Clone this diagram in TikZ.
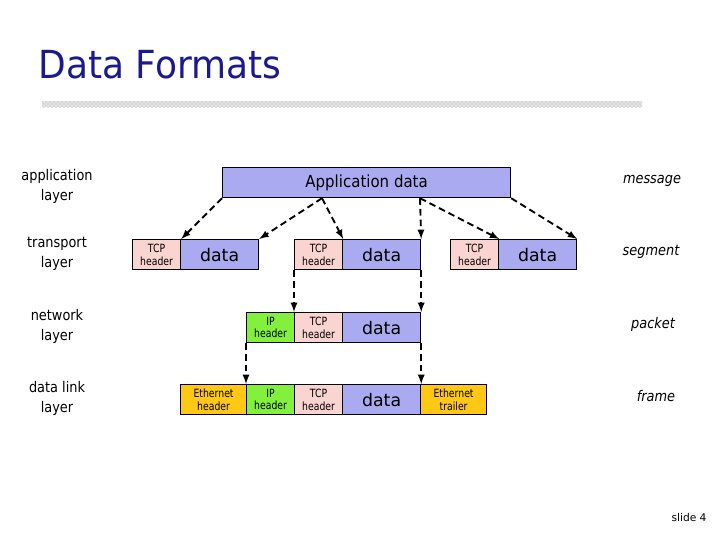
\documentclass[tikz,border=0pt]{standalone}
\usepackage{fontspec}
\setmainfont{DejaVu Sans}
\usetikzlibrary{calc,patterns}
\definecolor{tblue}{RGB}{26,26,140}
\definecolor{bblue}{RGB}{170,170,240}
\definecolor{bpink}{RGB}{250,212,208}
\definecolor{bgreen}{RGB}{130,240,60}
\definecolor{borange}{RGB}{255,200,20}
\begin{document}
\begin{tikzpicture}[x=0.75pt,y=-0.75pt,
  box/.style={draw=black,line width=0.9pt,anchor=north west,minimum height=22.5pt,inner sep=0pt,align=center,font=\fontsize{8.5}{9.5}\selectfont\addfontfeatures{FakeStretch=0.82}},
  big/.style={font=\fontsize{13}{14}\selectfont},
  lay/.style={align=center,font=\fontsize{11}{15}\selectfont\addfontfeatures{FakeStretch=0.88}},
  nm/.style={font=\itshape\fontsize{11}{12}\selectfont\addfontfeatures{FakeStretch=0.88}},
  arr/.style={-latex,line width=1.4pt,dash pattern=on 5pt off 3pt}]
\useasboundingbox (0,0) rectangle (720,540);
\node[anchor=west,text=tblue,font=\fontsize{29}{32}\selectfont\addfontfeatures{FakeStretch=0.93}] (title) at (34,65) {Data Formats};
\path[fill=gray!45,pattern=crosshatch dots,pattern color=gray] (42,101) rectangle (642,107);
\node[draw=none,fill=gray!35,opacity=0.6,minimum width=450pt,minimum height=4.5pt,inner sep=0pt] (bar) at (342,104) {};
% app
\node[box,fill=bblue,minimum width=216pt,font=\fontsize{12.5}{14}\selectfont\addfontfeatures{FakeStretch=0.9}] (app) at (222,167) {Application data};
% segments
\node[box,fill=bpink,minimum width=36pt] (t1) at (132,239) {TCP\\header};
\node[box,fill=bblue,minimum width=58.5pt,big] (d1) at (180,239) {data};
\node[box,fill=bpink,minimum width=36pt] (t2) at (294,239) {TCP\\header};
\node[box,fill=bblue,minimum width=58.5pt,big] (d2) at (342,239) {data};
\node[box,fill=bpink,minimum width=36pt] (t3) at (450,239) {TCP\\header};
\node[box,fill=bblue,minimum width=58.5pt,big] (d3) at (498,239) {data};
% packet
\node[box,fill=bgreen,minimum width=36pt] (i1) at (246,312) {IP\\header};
\node[box,fill=bpink,minimum width=36pt] (t4) at (294,312) {TCP\\header};
\node[box,fill=bblue,minimum width=58.5pt,big] (d4) at (342,312) {data};
% frame
\node[box,fill=borange,minimum width=49.5pt] (e1) at (180,384) {Ethernet\\header};
\node[box,fill=bgreen,minimum width=36pt] (i2) at (246,384) {IP\\header};
\node[box,fill=bpink,minimum width=36pt] (t5) at (294,384) {TCP\\header};
\node[box,fill=bblue,minimum width=58.5pt,big] (d5) at (342,384) {data};
\node[box,fill=borange,minimum width=49.5pt] (e2) at (420,384) {Ethernet\\trailer};
% arrows
\coordinate (a1) at ($(app.south west)+(100,0)$);
\coordinate (a2) at ($(app.south west)+(198,0)$);
\draw[arr] (app.south west) -- (t1.north east);
\draw[arr] (a1) -- (d1.north east);
\draw[arr] (a1) -- (t2.north east);
\draw[arr] (a2) -- (d2.north east);
\draw[arr] (a2) -- (t3.north east);
\draw[arr] (app.south east) -- (d3.north east);
\draw[arr] (t2.south west) -- (t4.north west);
\draw[arr] (d2.south east) -- (d4.north east);
\draw[arr] (i1.south west) -- (i2.north west);
\draw[arr] (d4.south east) -- (d5.north east);
% labels
\node[lay] (l1) at (57,186) {application\\layer};
\node[lay] (l2) at (57,254) {transport\\layer};
\node[lay] (l3) at (57,326) {network\\layer};
\node[lay] (l4) at (57,398) {data link\\layer};
\node[nm] (r1) at (652,181) {message};
\node[nm] (r2) at (651,252) {segment};
\node[nm] (r3) at (653,324) {packet};
\node[nm] (r4) at (656,396) {frame};
\node[font=\fontsize{8}{9}\selectfont] (slide) at (689,518) {slide 4};
\end{tikzpicture}
\end{document}
